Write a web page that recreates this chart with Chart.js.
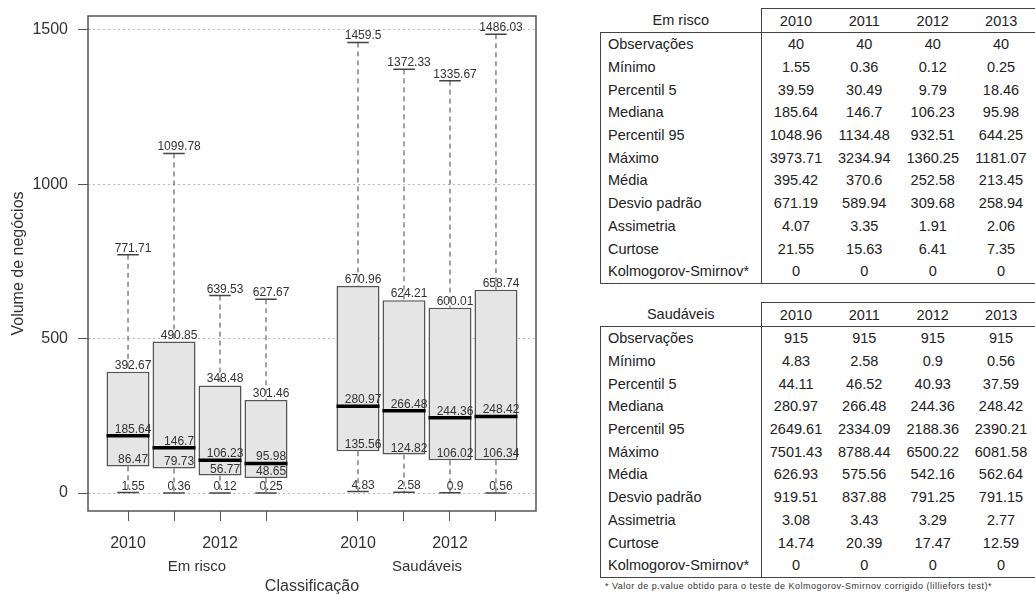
<!DOCTYPE html>
<html lang="pt">
<head>
<meta charset="utf-8">
<title>Volume de negócios</title>
<script src="https://cdn.jsdelivr.net/npm/chart.js@4.4.1/dist/chart.umd.min.js"></script>
<style>
  html, body { margin: 0; padding: 0; background: #fff; }
  body { width: 1035px; height: 594px; position: relative; overflow: hidden; font-family: "Liberation Sans", Arial, sans-serif; }
  #chart-box { position: absolute; left: 0; top: 0; width: 560px; height: 594px; }
  table.stats { position: absolute; left: 600px; width: 435px; border-collapse: collapse; table-layout: fixed; font-size: 14.5px; color: #222; }
  table.stats th { font-weight: normal; height: 23px; padding: 0; text-align: center; }
  table.stats th.yr { border-top: 1px solid #444; }
  table.stats th.first { border-left: 1px solid #444; }
  table.stats tbody { border: 1px solid #444; }
  table.stats td { height: 22.7px; padding: 0; text-align: center; white-space: nowrap; }
  table.stats td:first-child { text-align: left; padding-left: 7px; border-right: 1px solid #444; }
  #note { position: absolute; left: 605px; top: 581px; font-size: 9px; letter-spacing: 0.5px; color: #333; white-space: nowrap; }
</style>
</head>
<body>
<div id="chart-box"><canvas id="box-chart"></canvas></div>
<table class="stats" id="tab-risco" style="top:8px"></table>
<table class="stats" id="tab-saudaveis" style="top:302px"></table>
<div id="note">* Valor de p.value obtido para o teste de Kolmogorov-Smirnov corrigido (lilliefors test)*</div>
<script>
// box plot values (Em risco 2010-2013, Saudáveis 2010-2013)
const groups = ['Em risco', 'Saudáveis'];
const years = ['2010', '2011', '2012', '2013'];
const boxPositions = [1, 2, 3, 4, 6, 7, 8, 9];
const whiskerMin = [1.55, 0.36, 0.12, 0.25, 4.83, 2.58, 0.9, 0.56];
const quartile1 = [86.47, 79.73, 56.77, 48.65, 135.56, 124.82, 106.02, 106.34];
const medians = [185.64, 146.7, 106.23, 95.98, 280.97, 266.48, 244.36, 248.42];
const quartile3 = [392.67, 490.85, 348.48, 301.46, 670.96, 624.21, 600.01, 658.74];
const whiskerMax = [771.71, 1099.78, 639.53, 627.67, 1459.5, 1372.33, 1335.67, 1486.03];
const yTickValues = [0, 500, 1000, 1500];
const xTickLabels = ['2010', '', '2012', '', '2010', '', '2012', ''];
const groupCenters = [2.5, 7.5];

// summary tables
const statNames = ['Observações', 'Mínimo', 'Percentil 5', 'Mediana', 'Percentil 95', 'Máximo',
  'Média', 'Desvio padrão', 'Assimetria', 'Curtose', 'Kolmogorov-Smirnov*'];
const emRiscoRows = [
  [40, 40, 40, 40],
  [1.55, 0.36, 0.12, 0.25],
  [39.59, 30.49, 9.79, 18.46],
  [185.64, 146.7, 106.23, 95.98],
  [1048.96, 1134.48, 932.51, 644.25],
  [3973.71, 3234.94, 1360.25, 1181.07],
  [395.42, 370.6, 252.58, 213.45],
  [671.19, 589.94, 309.68, 258.94],
  [4.07, 3.35, 1.91, 2.06],
  [21.55, 15.63, 6.41, 7.35],
  [0, 0, 0, 0]
];
const saudaveisRows = [
  [915, 915, 915, 915],
  [4.83, 2.58, 0.9, 0.56],
  [44.11, 46.52, 40.93, 37.59],
  [280.97, 266.48, 244.36, 248.42],
  [2649.61, 2334.09, 2188.36, 2390.21],
  [7501.43, 8788.44, 6500.22, 6081.58],
  [626.93, 575.56, 542.16, 562.64],
  [919.51, 837.88, 791.25, 791.15],
  [3.08, 3.43, 3.29, 2.77],
  [14.74, 20.39, 17.47, 12.59],
  [0, 0, 0, 0]
];

function buildTable(id, title, rows) {
  let html = '<colgroup><col style="width:161px">' + years.map(() => '<col style="width:68.5px">').join('') + '</colgroup>';
  html += '<thead><tr><th>' + title + '</th>' +
    years.map((y, i) => '<th class="yr' + (i === 0 ? ' first' : '') + '">' + y + '</th>').join('') + '</tr></thead><tbody>';
  statNames.forEach((name, r) => {
    html += '<tr><td>' + name + '</td>' + rows[r].map(v => '<td>' + v + '</td>').join('') + '</tr>';
  });
  document.getElementById(id).innerHTML = html + '</tbody>';
}
buildTable('tab-risco', groups[0], emRiscoRows);
buildTable('tab-saudaveis', groups[1], saudaveisRows);

const FONT = '"Liberation Sans", Arial, sans-serif';

const boxDetails = {
  id: 'boxDetails',
  beforeDatasetsDraw(chart) {
    const ctx = chart.ctx;
    const ys = chart.scales.y;
    const bars = chart.getDatasetMeta(0).data;
    ctx.save();
    ctx.strokeStyle = '#444';
    bars.forEach((bar, i) => {
      const x = bar.x;
      const cap = bar.width / 4;
      const yHi = ys.getPixelForValue(whiskerMax[i]);
      const yQ3 = ys.getPixelForValue(quartile3[i]);
      const yQ1 = ys.getPixelForValue(quartile1[i]);
      const yLo = ys.getPixelForValue(whiskerMin[i]);
      ctx.lineWidth = 1;
      ctx.setLineDash([5, 4]);
      ctx.beginPath();
      ctx.moveTo(x, yHi); ctx.lineTo(x, yQ3);
      ctx.moveTo(x, yQ1); ctx.lineTo(x, yLo);
      ctx.stroke();
      ctx.setLineDash([]);
      ctx.lineWidth = 1.5;
      ctx.beginPath();
      ctx.moveTo(x - cap, yHi); ctx.lineTo(x + cap, yHi);
      ctx.moveTo(x - cap, yLo); ctx.lineTo(x + cap, yLo);
      ctx.stroke();
    });
    ctx.restore();
  },
  afterDatasetsDraw(chart) {
    const ctx = chart.ctx;
    const xs = chart.scales.x;
    const ys = chart.scales.y;
    const bars = chart.getDatasetMeta(0).data;
    ctx.save();
    bars.forEach((bar, i) => {
      const yMed = ys.getPixelForValue(medians[i]);
      ctx.strokeStyle = '#000';
      ctx.lineWidth = 3.5;
      ctx.beginPath();
      ctx.moveTo(bar.x - bar.width / 2, yMed);
      ctx.lineTo(bar.x + bar.width / 2, yMed);
      ctx.stroke();
      const tx = xs.getPixelForValue(boxPositions[i] + 0.11);
      ctx.fillStyle = '#333';
      ctx.font = '12px ' + FONT;
      ctx.textAlign = 'center';
      ctx.textBaseline = 'alphabetic';
      [whiskerMax, quartile3, medians, quartile1, whiskerMin].forEach(arr => {
        ctx.fillText(String(arr[i]), tx, ys.getPixelForValue(arr[i]) - 3);
      });
    });
    ctx.restore();
  },
  afterDraw(chart) {
    const ctx = chart.ctx;
    const a = chart.chartArea;
    const xs = chart.scales.x;
    ctx.save();
    ctx.strokeStyle = '#555';
    ctx.lineWidth = 1.5;
    ctx.strokeRect(a.left, a.top, a.right - a.left, a.bottom - a.top);
    ctx.fillStyle = '#333';
    ctx.font = '15px ' + FONT;
    ctx.textAlign = 'center';
    ctx.textBaseline = 'middle';
    groups.forEach((g, i) => ctx.fillText(g, xs.getPixelForValue(groupCenters[i]), 567));
    ctx.restore();
  }
};

new Chart(document.getElementById('box-chart'), {
  type: 'bar',
  data: {
    datasets: [{
      data: boxPositions.map((p, i) => ({ x: p, y: [quartile1[i], quartile3[i]] })),
      backgroundColor: '#e5e5e5',
      borderColor: '#555',
      borderWidth: 1.5,
      borderSkipped: false,
      barPercentage: 0.935,
      categoryPercentage: 1
    }]
  },
  options: {
    responsive: true,
    maintainAspectRatio: false,
    animation: false,
    layout: { padding: { left: 0, top: 16, right: 24, bottom: 0 } },
    plugins: { legend: { display: false }, tooltip: { enabled: false } },
    scales: {
      x: {
        type: 'linear',
        min: 0.13,
        max: 9.87,
        offset: false,
        afterBuildTicks: s => { s.ticks = boxPositions.map(v => ({ value: v })); },
        afterFit: s => { s.height = 83; s.paddingLeft = 0; s.paddingRight = 0; },
        ticks: {
          autoSkip: false,
          maxRotation: 0,
          padding: 13,
          color: '#333',
          font: { family: FONT, size: 16 },
          callback: (v, i) => xTickLabels[i]
        },
        grid: { offset: false, drawOnChartArea: false, drawTicks: true, tickLength: 10, tickColor: '#555', tickWidth: 1 },
        border: { display: false },
        title: { display: true, text: 'Classificação', color: '#333', font: { family: FONT, size: 16 }, padding: { top: 0, bottom: -2 } }
      },
      y: {
        min: -58,
        max: 1545,
        afterBuildTicks: s => { s.ticks = yTickValues.map(v => ({ value: v })); },
        afterFit: s => { s.width = 88; s.paddingTop = 0; s.paddingBottom = 0; },
        ticks: { padding: 10, color: '#333', font: { family: FONT, size: 16 }, callback: v => String(v) },
        grid: { color: '#bbb', lineWidth: 1, tickLength: 10, tickColor: '#555', tickWidth: 1, tickBorderDash: [] },
        border: { display: false, dash: [2, 3] },
        title: { display: true, text: 'Volume de negócios', color: '#333', font: { family: FONT, size: 16 }, padding: { top: 9, bottom: 0 } }
      }
    }
  },
  plugins: [boxDetails]
});
</script>
</body>
</html>
